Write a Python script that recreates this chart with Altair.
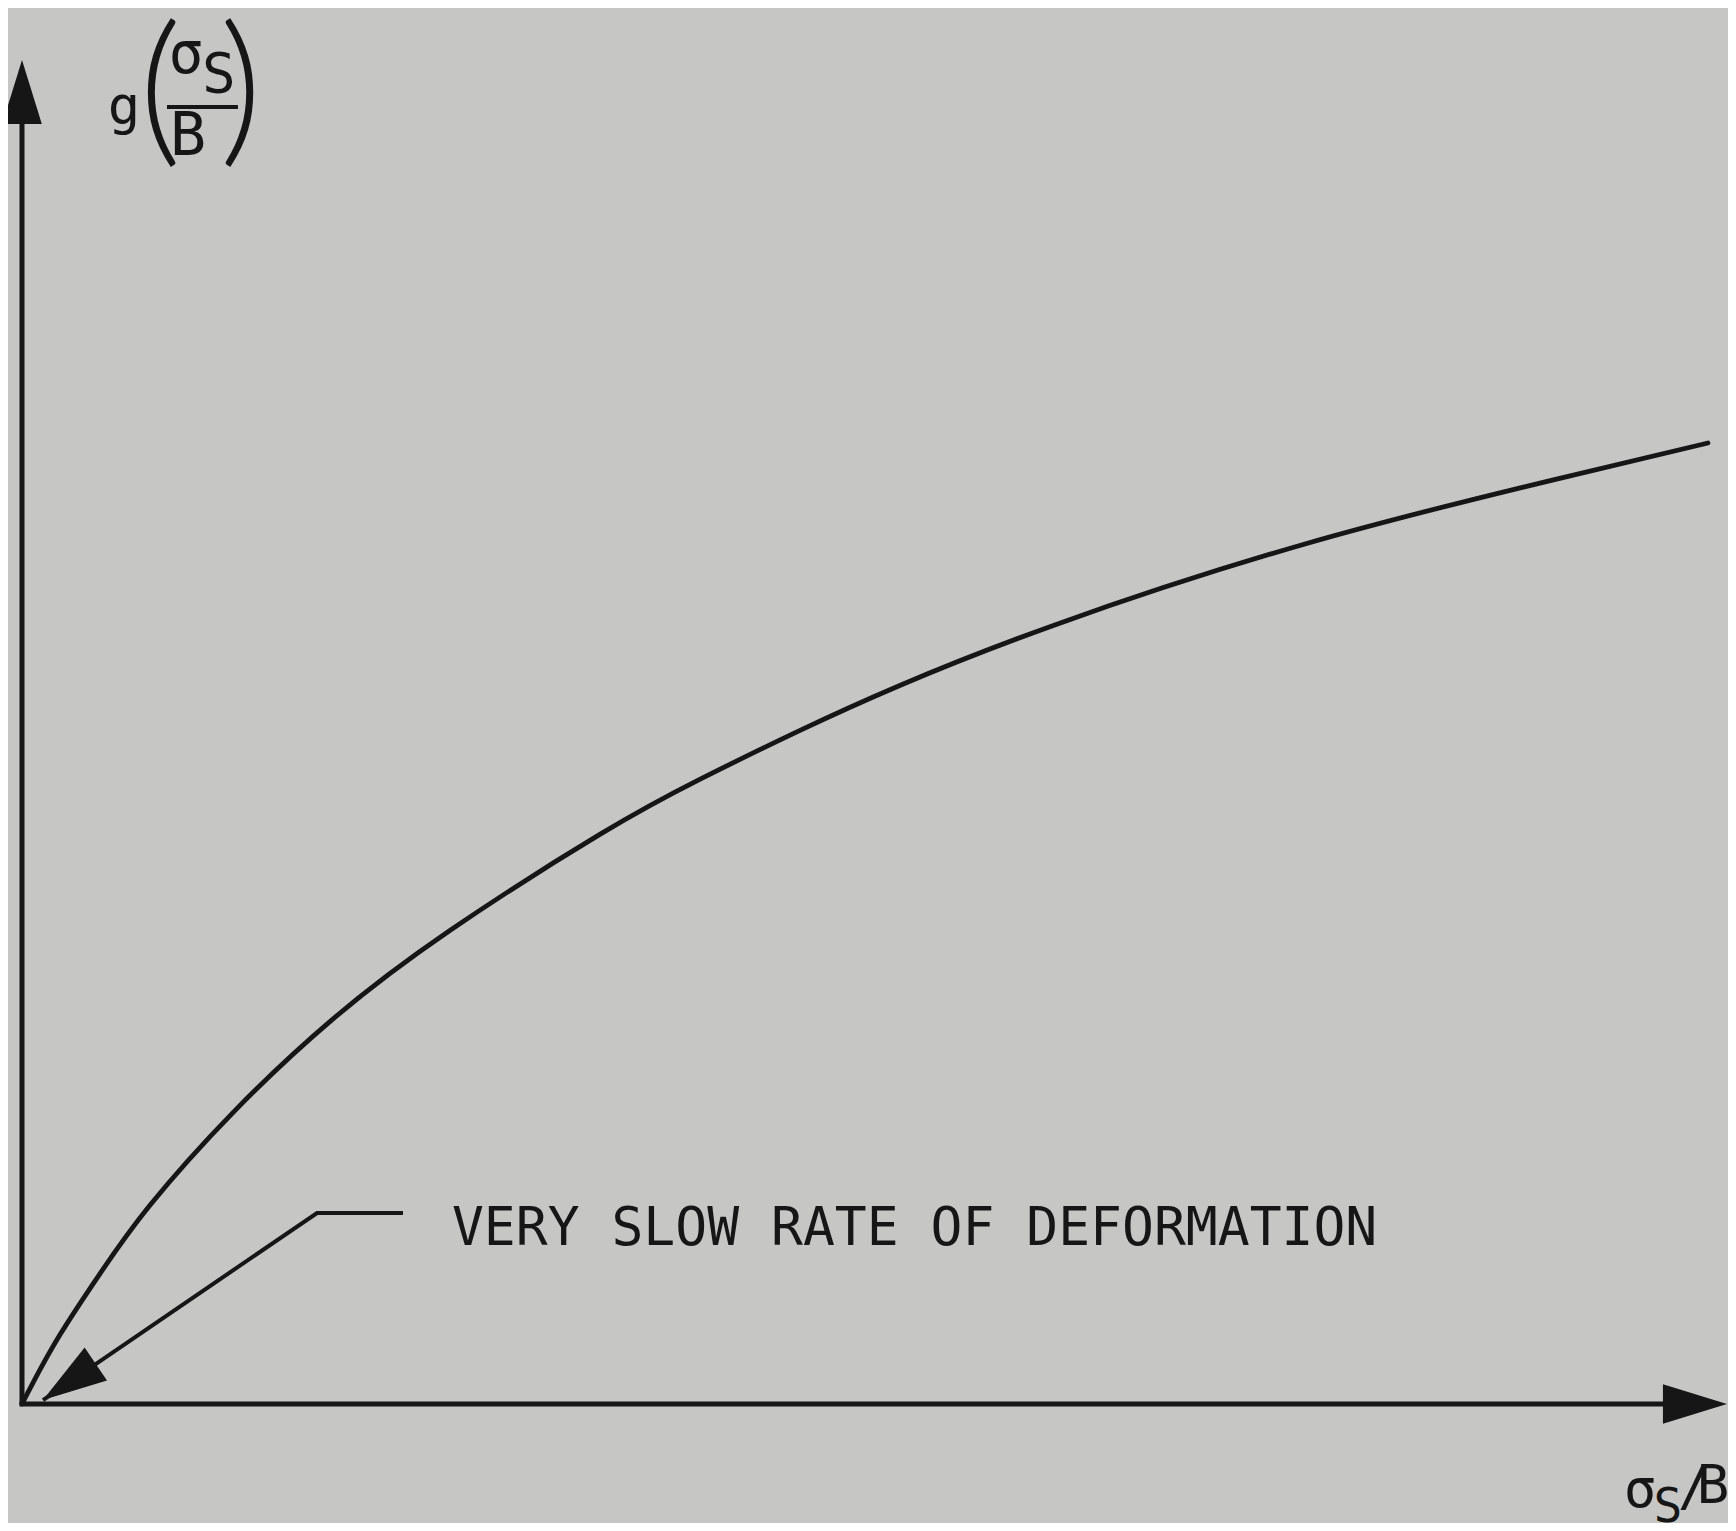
import altair as alt
import pandas as pd

# ---- data (normalised: curve end = 1,1) ----
x_vals = [0, 0.0065, 0.0225, 0.046, 0.076, 0.125, 0.184, 0.254, 0.343,
          0.402, 0.4615, 0.521, 0.613, 0.761, 0.909, 1.0]
g_vals = [0, 0.022, 0.072, 0.135, 0.207, 0.303, 0.400, 0.493, 0.593,
          0.650, 0.701, 0.748, 0.811, 0.895, 0.962, 1.0]

axis_x = [0.0, -0.0015]
axis_y = [0.0, 0.0]
axis_x2 = [0.0, 0.9923]
axis_y2 = [1.3652, 0.0]

arrow_x = [0.0, 0.9923, 0.0281]
arrow_y = [1.3652, 0.0, 0.0229]
arrow_angle = [270, 0, 145.7]

leader_x = [0.01246, 0.175, 0.226]
leader_y = [0.00416, 0.1988, 0.1988]

annotation = "VERY SLOW RATE OF DEFORMATION"
annot_x = [0.2550]
annot_y = [0.1655]

label_text = ["g", "σ", "S", "B", "σ", "S", "/", "B"]
label_x = [0.0605, 0.0973, 0.1168, 0.0985, 0.9597, 0.9763, 0.9917, 1.0030]
label_y = [1.3319, 1.3850, 1.3652, 1.2997, -0.1072, -0.1228, -0.1051, -0.1030]
label_fs = [54, 58, 56, 60, 54, 48, 54, 54]

paren_text = ["(", ")"]
paren_x = [0.0819, 0.1299]
paren_y = [1.3101, 1.3101]

frac_x = [0.0860]
frac_x2 = [0.1281]
frac_y = [1.3496]

INK = "#161616"
BG = "#c6c7c4"

xs = alt.Scale(domain=[-0.0083, 1.0119], nice=False, zero=False)
ys = alt.Scale(domain=[-0.1238, 1.4527], nice=False, zero=False)

def X(f="x"):
    return alt.X(f"{f}:Q", scale=xs, axis=None)

def Y(f="y"):
    return alt.Y(f"{f}:Q", scale=ys, axis=None)

curve_df = pd.DataFrame({"x": x_vals, "y": g_vals})
axes_df = pd.DataFrame({"x": axis_x, "y": axis_y, "x2": axis_x2, "y2": axis_y2})
arrow_df = pd.DataFrame({"x": arrow_x, "y": arrow_y, "angle": arrow_angle})
leader_df = pd.DataFrame({"x": leader_x, "y": leader_y, "o": [0, 1, 2]})
annot_df = pd.DataFrame({"x": annot_x, "y": annot_y, "t": [annotation]})
label_df = pd.DataFrame({"x": label_x, "y": label_y, "t": label_text, "fs": label_fs})
paren_df = pd.DataFrame({"x": paren_x, "y": paren_y, "t": paren_text})
frac_df = pd.DataFrame({"x": frac_x, "x2": frac_x2, "y": frac_y})

curve = alt.Chart(curve_df).mark_line(
    interpolate="natural", strokeWidth=4.8, color=INK, strokeCap="round"
).encode(x=X(), y=Y())

axes = alt.Chart(axes_df).mark_rule(strokeWidth=5, color=INK).encode(
    x=X(), y=Y(), x2="x2:Q", y2="y2:Q"
)

arrows = alt.Chart(arrow_df).mark_point(
    filled=True, opacity=1, color=INK, size=4096, strokeWidth=0,
    shape="M1,0 L-1,0.62 L-1,-0.62 Z",
).encode(x=X(), y=Y(), angle=alt.Angle("angle:Q", scale=None))

leader = alt.Chart(leader_df).mark_line(strokeWidth=4, color=INK).encode(
    x=X(), y=Y(), order="o:Q"
)

frac = alt.Chart(frac_df).mark_rule(strokeWidth=4, color=INK).encode(
    x=X(), x2="x2:Q", y=Y()
)

annot = alt.Chart(annot_df).mark_text(
    font="DejaVu Sans Mono", fontSize=53, align="left", baseline="alphabetic", color=INK
).encode(x=X(), y=Y(), text="t:N")

labels = alt.Chart(label_df).mark_text(
    font="DejaVu Sans Mono", align="center", baseline="alphabetic", color=INK
).encode(x=X(), y=Y(), text="t:N", size=alt.Size("fs:Q", scale=None))

parens = alt.Chart(paren_df).mark_text(
    font="Lato", fontWeight=300, fontSize=166, align="center", baseline="alphabetic", color=INK
).encode(x=X(), y=Y(), text="t:N")

chart = alt.layer(curve, axes, leader, arrows, frac, annot, labels, parens).properties(
    width=1720, height=1515, padding=0, autosize="none", background=BG
).configure_view(stroke=None, fill=BG)

chart.save("out.html", embed_options={"renderer": "svg", "actions": False})
